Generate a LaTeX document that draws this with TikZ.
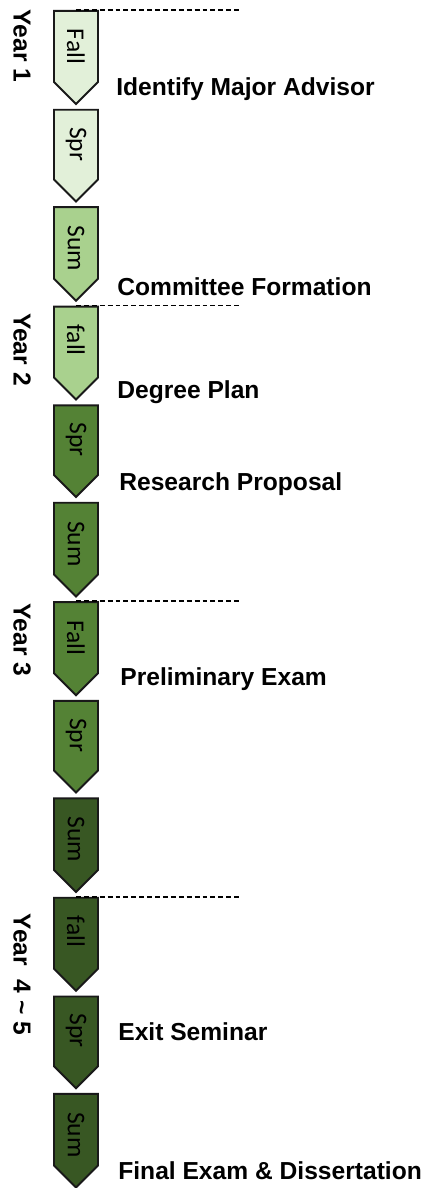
\documentclass[tikz,border=0pt]{standalone}
\usepackage{graphicx}
\usepackage{fontspec}
\setmainfont{Liberation Sans}
\newfontfamily\termfont{Carlito}
\usetikzlibrary{shapes.symbols, positioning}
\definecolor{paleleaf}{HTML}{E2F0D9}
\definecolor{softleaf}{HTML}{A9D18E}
\definecolor{leaf}{HTML}{548235}
\definecolor{darkleaf}{HTML}{385723}
\newcommand{\termtext}[1]{\rotatebox{-90}{\makebox[0.70cm][l]{#1}}}

\begin{document}
\begin{tikzpicture}[ term/.style={signal, signal to=south, signal pointer angle=90, draw=black!90, line width=1.1pt, minimum width=0.88cm, minimum height=1.60cm, inner sep=0pt, font=\termfont\fontsize{14.5}{17}\selectfont},
    milestone/.style={anchor=base west, inner sep=0pt, font=\bfseries\fontsize{14}{17}\selectfont},
    yearlabel/.style={rotate=-90, inner sep=0pt, font=\bfseries\fontsize{14}{17}\selectfont},
    yearline/.style={dash pattern=on 2.8pt off 1.7pt, line width=1pt} ]

    \useasboundingbox (0,0) rectangle (8.58,-23.76);

    %Chevrons
    \node[term, fill=paleleaf, anchor=north] (fall1) at (1.52,-0.2) {\termtext{Fall}};
    \node[term, fill=paleleaf] (spr1) [below=0.068cm of fall1] {\termtext{Spr}};
    \node[term, fill=softleaf] (sum1) [below=0.068cm of spr1] {\termtext{Sum}};
    \node[term, fill=softleaf] (fall2) [below=0.068cm of sum1] {\termtext{fall}};
    \node[term, fill=leaf] (spr2) [below=0.068cm of fall2] {\termtext{Spr}};
    \node[term, fill=leaf] (sum2) [below=0.068cm of spr2] {\termtext{Sum}};
    \node[term, fill=leaf] (fall3) [below=0.068cm of sum2] {\termtext{Fall}};
    \node[term, fill=leaf] (spr3) [below=0.068cm of fall3] {\termtext{Spr}};
    \node[term, fill=darkleaf] (sum3) [below=0.068cm of spr3] {\termtext{Sum}};
    \node[term, fill=darkleaf] (fall4) [below=0.068cm of sum3] {\termtext{fall}};
    \node[term, fill=darkleaf] (spr4) [below=0.068cm of fall4] {\termtext{Spr}};
    \node[term, fill=darkleaf] (sum4) [below=0.068cm of spr4] {\termtext{Sum}};

    %Years
    \node[yearlabel] (year1) at (0.44,-0.92) {Year 1};
    \node[yearlabel] (year2) at (0.44,-6.99) {Year 2};
    \node[yearlabel] (year3) at (0.44,-12.8) {Year 3};
    \node[yearlabel] (year45) at (0.44,-19.49) {Year\ \ 4 \textasciitilde{} 5};

    %Milestones
    \node[milestone] (advisor) at (2.32,-1.92) {Identify Major Advisor};
    \node[milestone] (committee) at (2.34,-5.90) {Committee Formation};
    \node[milestone] (plan) at (2.34,-7.96) {Degree Plan};
    \node[milestone] (proposal) at (2.38,-9.80) {Research Proposal};
    \node[milestone] (prelim) at (2.40,-13.70) {Preliminary Exam};
    \node[milestone] (exit) at (2.36,-20.80) {Exit Seminar};
    \node[milestone] (final) at (2.36,-23.58) {Final Exam \& Dissertation};

    %Lines
    \coordinate[right=3.28cm of fall1.north] (end1);
    \coordinate[right=3.28cm of fall2.north] (end2);
    \coordinate[right=3.28cm of fall3.north] (end3);
    \coordinate[right=3.28cm of fall4.north] (end4);
    \draw[yearline] (fall1.north) -- (end1);
    \draw[yearline] (fall2.north) -- (end2);
    \draw[yearline] (fall3.north) -- (end3);
    \draw[yearline] (fall4.north) -- (end4);
\end{tikzpicture}
\end{document}
